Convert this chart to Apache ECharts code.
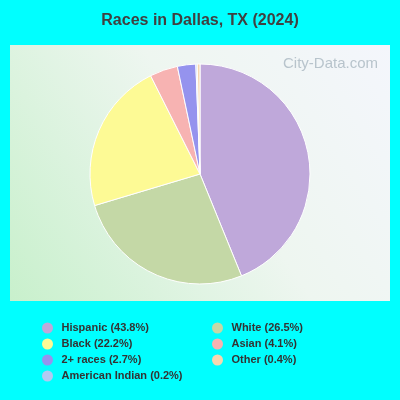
<!DOCTYPE html>
<html><head><meta charset="utf-8">
<script src="https://cdn.jsdelivr.net/npm/echarts@6/dist/echarts.min.js"></script>
<style>html,body{margin:0;padding:0;background:#00ffff}#c{width:400px;height:400px}</style>
</head><body><div id="c"></div>
<script>
const categories = ["Hispanic","White","Black","Asian","2+ races","American Indian","Other"];
const values = [43.8,26.5,22.2,4.1,2.7,0.2,0.4];
const colors = ["#bfa8da","#c4d8a6","#fdfa95","#f7b3b2","#9593ee","#b3c9f2","#f6d7b0"];
const chart = echarts.init(document.getElementById('c'));
const data = categories.map((c,i)=>({name:c,value:values[i],itemStyle:{color:colors[i]}}));
const legendItem = (name, x, y) => ({
  type:'group', left:x, top:y, children:[
    {type:'circle', shape:{cx:5,cy:6,r:5.5}, style:{fill:colors[categories.indexOf(name)]}},
    {type:'text', left:19, top:0, style:{text:name+' ('+values[categories.indexOf(name)]+'%)', font:'bold 11px Arial, "Liberation Sans"', fill:'#333'}}
  ]});
chart.setOption({
  backgroundColor:'#00ffff',
  title:{text:'Races in Dallas, TX (2024)', left:'center', top:8, textStyle:{fontSize:16, fontWeight:'bold', color:'#404040', fontFamily:'Arial, "Liberation Sans"'}},
  graphic:[
    {type:'rect', left:10, top:45, shape:{width:380,height:256}, z:-10,
     style:{fill:new echarts.graphic.LinearGradient(0,1,1,0,[{offset:0,color:'#c8f0cc'},{offset:0.55,color:'#eef6f0'},{offset:1,color:'#f4f6fc'}])}},
    {type:'text', right:22, top:56, style:{text:'City-Data.com', font:'15px Arial, "Liberation Sans"', fill:'#b8c4cc'}},
    legendItem('Hispanic',42,322), legendItem('Black',42,338), legendItem('2+ races',42,354), legendItem('American Indian',42,370),
    legendItem('White',212,322), legendItem('Asian',212,338), legendItem('Other',212,354)
  ],
  series:[{type:'pie', center:[200,174], radius:[0,110], startAngle:90, clockwise:true,
    label:{show:false}, labelLine:{show:false}, emphasis:{disabled:true},
    itemStyle:{borderColor:'#ffffff', borderWidth:1}, data:data}]
});
</script></body></html>
